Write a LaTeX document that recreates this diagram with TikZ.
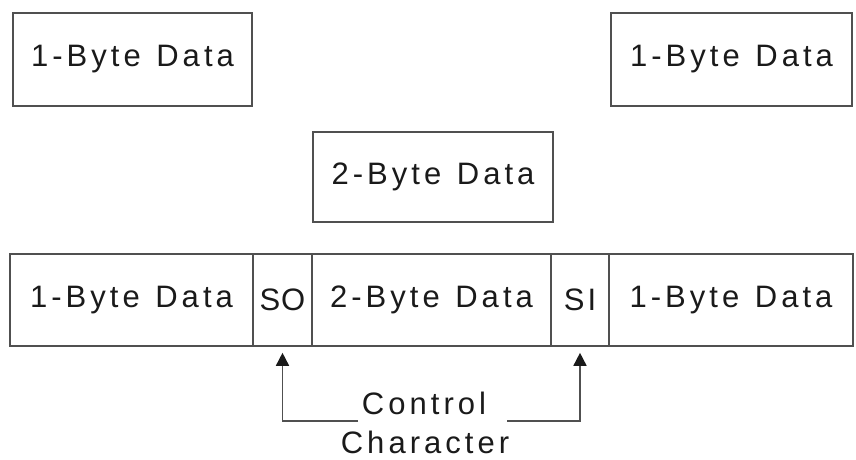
\documentclass[tikz,border=0pt]{standalone}
\usepackage{fontspec}
\setmainfont{Liberation Sans}[LetterSpace=13]
\usetikzlibrary{arrows.meta}
\definecolor{linegray}{HTML}{505050}
\definecolor{textgray}{HTML}{1a1a1a}
\begin{document}
\begin{tikzpicture}[x=1pt,y=-1pt,
  box/.style={draw=linegray, line width=1.6pt, rectangle, inner sep=0pt,
    text=textgray, font=\fontsize{31}{36}\selectfont},
  lbl/.style={inner sep=0pt, anchor=base, text=textgray, font=\fontsize{31}{36}\selectfont},
  conn/.style={draw=linegray, line width=1.6pt, -{Triangle[length=13pt,width=13pt,color=textgray]}, shorten >=6pt}]
\useasboundingbox (0,0) rectangle (856,459);
% top boxes
\node[box, minimum width=239pt, minimum height=93pt] (tl) at (132.5,59.5) {1-Byte\hspace{0.5em}Data};
\node[box, minimum width=241pt, minimum height=93pt] (tr) at (731.5,59.5) {1-Byte\hspace{0.5em}Data};
\node[box, minimum width=240pt, minimum height=90pt] (mid) at (433,177) {2-Byte\hspace{0.5em}Data};
% bottom row
\node[box, minimum width=243pt, minimum height=92pt] (b1) at (131.5,300) {1-Byte\hspace{0.5em}Data};
\node[box, minimum width=59pt, minimum height=92pt] (so) at (282.5,300) {\addfontfeatures{LetterSpace=3}SO};
\node[box, minimum width=239pt, minimum height=92pt] (b2) at (431.5,300) {2-Byte\hspace{0.5em}Data};
\node[box, minimum width=58pt, minimum height=92pt] (si) at (580,300) {\addfontfeatures{LetterSpace=10}SI};
\node[box, minimum width=244pt, minimum height=92pt] (b3) at (731,300) {1-Byte\hspace{0.5em}Data};
% label
\node[lbl] (ctl) at (424,414) {Control};
\node[lbl] (chr) at (425,453) {Character};
\coordinate (cl) at (358,421);
\coordinate (cr) at (507,421);
\draw[conn] (cl) -| (so.south);
\draw[conn] (cr) -| (si.south);
\end{tikzpicture}
\end{document}
